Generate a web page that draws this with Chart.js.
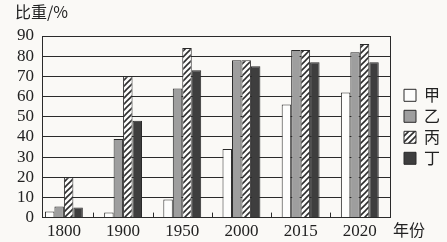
<!DOCTYPE html>
<html>
<head>
<meta charset="utf-8">
<script src="https://cdn.jsdelivr.net/npm/chart.js@4.4.0/dist/chart.umd.min.js"></script>
<style>
  html, body { margin: 0; padding: 0; background: #faf9f6; }
  #wrap { width: 447px; height: 242px; position: relative; }
</style>
</head>
<body>
<div id="wrap"><canvas id="chart" width="447" height="242"></canvas></div>
<script>
// data
const years = ['1800', '1900', '1950', '2000', '2015', '2020'];
const jia  = [3, 2.5, 9, 34, 56, 62];
const yi   = [5.5, 39, 64, 78, 83, 82];
const bing = [20, 70, 84, 78, 83, 86];
const ding = [5, 48, 73, 75, 77, 77];
const seriesNames = ['甲', '乙', '丙', '丁'];
const yMax = 90;
const yStep = 10;

// diagonal hatch for 丙
function hatch() {
    const s = 6;
    const c = document.createElement('canvas');
    c.width = s; c.height = s;
    const g = c.getContext('2d');
    g.fillStyle = '#fcfcfb';
    g.fillRect(0, 0, s, s);
    g.strokeStyle = '#2e2e2e';
    g.lineWidth = 1.6;
    g.beginPath();
    g.moveTo(0, s); g.lineTo(s, 0);
    g.moveTo(-1, 1); g.lineTo(1, -1);
    g.moveTo(s - 1, s + 1); g.lineTo(s + 1, s - 1);
    g.stroke();
    return g.createPattern(c, 'repeat');
}

const toPts = arr => arr.map((v, i) => ({ x: i, y: v }));

// inward ticks between groups, axis captions
const extras = {
    id: 'extras',
    afterDraw(chart) {
        const { ctx, chartArea: a, scales } = chart;
        ctx.save();
        ctx.strokeStyle = '#2a2a2a';
        ctx.lineWidth = 1;
        ctx.beginPath();
        for (let i = 0; i < years.length - 1; i++) {
            const x = Math.round(scales.x.getPixelForValue(i + 0.5)) + 0.5;
            ctx.moveTo(x, a.bottom);
            ctx.lineTo(x, a.bottom - 5);
        }
        ctx.stroke();
        ctx.fillStyle = '#222';
        ctx.font = '16px "Noto Sans CJK SC"';
        ctx.textBaseline = 'middle';
        ctx.textAlign = 'left';
        ctx.fillText('比重/%', 15, 12);
        ctx.fillText('年份', 393, 230);
        ctx.restore();
    }
};

new Chart(document.getElementById('chart'), {
    type: 'bar',
    data: {
        datasets: [
            { label: seriesNames[0], data: toPts(jia),  backgroundColor: '#fdfdfc' },
            { label: seriesNames[1], data: toPts(yi),   backgroundColor: '#9e9e9e' },
            { label: seriesNames[2], data: toPts(bing), backgroundColor: hatch() },
            { label: seriesNames[3], data: toPts(ding), backgroundColor: '#3e3e3e' }
        ].map(d => Object.assign(d, { borderColor: '#2a2a2a', borderWidth: 1 }))
    },
    options: {
        responsive: false,
        animation: false,
        layout: { padding: { left: 9, top: 36, bottom: -4, right: 0 } },
        datasets: { bar: { barPercentage: 1, categoryPercentage: 0.64 } },
        scales: {
            x: {
                type: 'linear',
                offset: false,
                min: -0.37,
                max: 5.51,
                afterBuildTicks: s => { s.ticks = years.map((_, i) => ({ value: i })); },
                ticks: {
                    padding: 4,
                    maxRotation: 0,
                    autoSkip: false,
                    color: '#222',
                    font: { family: 'Liberation Serif', size: 17 },
                    callback: v => years[v]
                },
                grid: { display: false, drawTicks: false },
                border: { color: '#2a2a2a' }
            },
            y: {
                min: 0,
                max: yMax,
                ticks: {
                    stepSize: yStep,
                    autoSkip: false,
                    padding: 8,
                    color: '#222',
                    font: { family: 'Liberation Serif', size: 17 }
                },
                grid: { color: '#2a2a2a', drawTicks: false },
                border: { color: '#2a2a2a' }
            },
            // right-hand frame line, also keeps the legend clear of the plot
            frame: {
                type: 'linear',
                position: 'right',
                min: 0,
                max: yMax,
                ticks: { display: false },
                grid: { drawOnChartArea: false, drawTicks: false },
                border: { color: '#2a2a2a' },
                afterFit: s => { s.width = 9; }
            }
        },
        plugins: {
            legend: {
                position: 'right',
                fullSize: false,
                maxWidth: 48,
                labels: {
                    boxWidth: 12,
                    boxHeight: 12,
                    padding: 5,
                    color: '#222',
                    font: { family: 'Noto Sans CJK SC', size: 16 }
                }
            },
            tooltip: { enabled: false }
        }
    },
    plugins: [extras]
});
</script>
</body>
</html>
